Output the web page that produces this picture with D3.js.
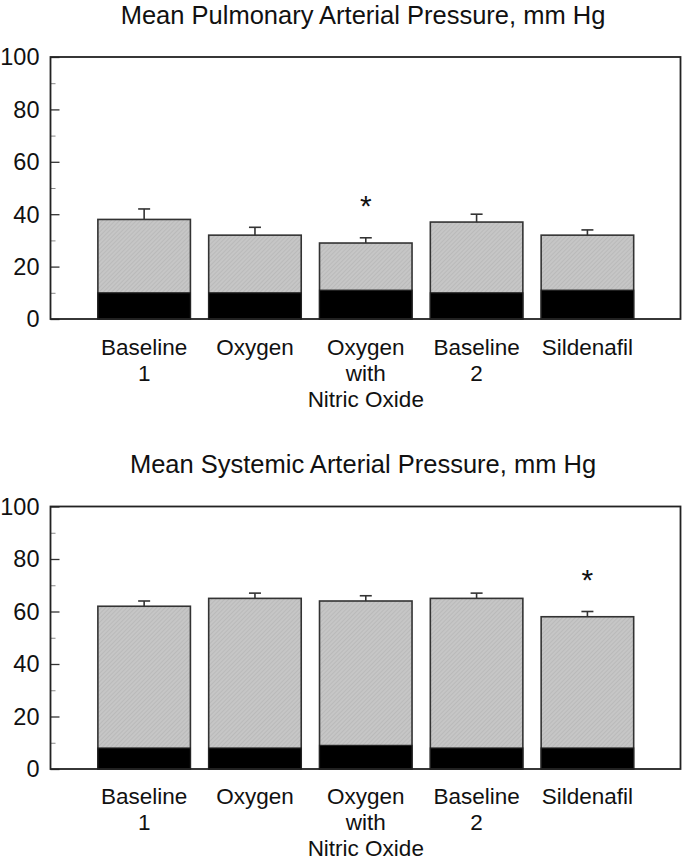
<!DOCTYPE html>
<html>
<head>
<meta charset="utf-8">
<script src="https://cdn.jsdelivr.net/npm/d3@7"></script>
<style>
  html, body { margin: 0; padding: 0; background: #fff; }
  svg { display: block; }
  text { font-family: "Liberation Sans", Arial, sans-serif; fill: #111; }
</style>
</head>
<body>
<svg id="chart" width="686" height="861"></svg>
<script>
// ---------- data ----------
const categories = [["Baseline", "1"], ["Oxygen"], ["Oxygen", "with", "Nitric Oxide"], ["Baseline", "2"], ["Sildenafil"]];
const yTicks = [0, 20, 40, 60, 80, 100];
const yMinorTicks = [10, 30, 50, 70, 90];

const papTitle = "Mean Pulmonary Arterial Pressure, mm Hg";
const papTotal = [38, 32, 29, 37, 32];
const papLower = [10, 10, 11, 10, 11];
const papError = [4, 3, 2, 3, 2];
const papSignificant = [false, false, true, false, false];

const sapTitle = "Mean Systemic Arterial Pressure, mm Hg";
const sapTotal = [62, 65, 64, 65, 58];
const sapLower = [8, 8, 9, 8, 8];
const sapError = [2, 2, 2, 2, 2];
const sapSignificant = [false, false, false, false, true];

// ---------- drawing ----------
const svg = d3.select("#chart");

const defs = svg.append("defs");
const pat = defs.append("pattern")
  .attr("id", "hatch")
  .attr("patternUnits", "userSpaceOnUse")
  .attr("width", 3).attr("height", 3)
  .attr("patternTransform", "rotate(45)");
pat.append("rect").attr("width", 3).attr("height", 3).attr("fill", "#c6c6c6");
pat.append("line").attr("x1", 0).attr("y1", 0).attr("x2", 0).attr("y2", 3)
  .attr("stroke", "#b2b2b2").attr("stroke-width", 1.2);

function panel(opts) {
  const { top, bottom, title, titleY, total, lower, error, sig, labelY } = opts;
  const left = 50.5, right = 680.5;
  const g = svg.append("g");

  const x = d3.scaleLinear().domain([0.155, 5.84]).range([left, right]);
  const y = d3.scaleLinear().domain([0, 100]).range([bottom, top]);
  const idx = d3.range(categories.length);
  const bw = 0.835;

  // title
  g.append("text")
    .attr("x", 363).attr("y", titleY)
    .attr("text-anchor", "middle")
    .attr("font-size", 25.5)
    .text(title);

  // bars: upper (hatched) full height
  g.selectAll("rect.upper").data(idx).join("rect")
    .attr("class", "upper")
    .attr("x", i => x(i + 1 - bw / 2))
    .attr("width", i => x(i + 1 + bw / 2) - x(i + 1 - bw / 2))
    .attr("y", i => y(total[i]))
    .attr("height", i => y(0) - y(total[i]))
    .attr("fill", "url(#hatch)")
    .attr("stroke", "#333")
    .attr("stroke-width", 1.6);

  // lower black segment
  g.selectAll("rect.lower").data(idx).join("rect")
    .attr("class", "lower")
    .attr("x", i => x(i + 1 - bw / 2))
    .attr("width", i => x(i + 1 + bw / 2) - x(i + 1 - bw / 2))
    .attr("y", i => y(lower[i]))
    .attr("height", i => y(0) - y(lower[i]))
    .attr("fill", "#000")
    .attr("stroke", "#222")
    .attr("stroke-width", 1.2);

  // error bars (upward only)
  const eb = g.selectAll("g.err").data(idx).join("g").attr("class", "err");
  eb.append("line")
    .attr("x1", i => x(i + 1)).attr("x2", i => x(i + 1))
    .attr("y1", i => y(total[i])).attr("y2", i => y(total[i] + error[i]))
    .attr("stroke", "#333").attr("stroke-width", 1.6);
  eb.append("line")
    .attr("x1", i => x(i + 1) - 6).attr("x2", i => x(i + 1) + 6)
    .attr("y1", i => y(total[i] + error[i])).attr("y2", i => y(total[i] + error[i]))
    .attr("stroke", "#333").attr("stroke-width", 1.6);

  // significance asterisks
  g.selectAll("text.sig").data(idx.filter(i => sig[i])).join("text")
    .attr("class", "sig")
    .attr("x", i => x(i + 1))
    .attr("y", i => y(total[i] + error[i]) - 22)
    .attr("text-anchor", "middle")
    .attr("font-family", "Liberation Serif, serif")
    .attr("font-size", 30)
    .text("*");

  // y axis ticks (inward)
  const axis = g.append("g").attr("transform", `translate(${left},0)`);
  axis.call(d3.axisRight(y).tickValues(yTicks).tickSize(9).tickFormat(""))
    .call(a => a.select(".domain").remove())
    .call(a => a.selectAll("line").attr("stroke", "#333").attr("stroke-width", 1.3));
  const minor = g.append("g").attr("transform", `translate(${left},0)`);
  minor.call(d3.axisRight(y).tickValues(yMinorTicks).tickSize(5).tickFormat(""))
    .call(a => a.select(".domain").remove())
    .call(a => a.selectAll("line").attr("stroke", "#888").attr("stroke-width", 1));

  // tick labels
  g.selectAll("text.ylab").data(yTicks).join("text")
    .attr("class", "ylab")
    .attr("x", left - 11)
    .attr("y", d => y(d))
    .attr("dy", "0.36em")
    .attr("text-anchor", "end")
    .attr("font-size", 23.5)
    .text(d => d);

  // frame
  g.append("rect")
    .attr("x", left).attr("y", top)
    .attr("width", right - left).attr("height", bottom - top)
    .attr("fill", "none")
    .attr("stroke", "#222")
    .attr("stroke-width", 1.8);

  // category labels
  const cl = g.selectAll("text.cat").data(idx).join("text")
    .attr("class", "cat")
    .attr("text-anchor", "middle")
    .attr("font-size", 22.5)
    .attr("x", i => x(i + 1))
    .attr("y", labelY);
  cl.selectAll("tspan").data(i => categories[i]).join("tspan")
    .attr("x", function() { return d3.select(this.parentNode).attr("x"); })
    .attr("dy", (d, j) => j === 0 ? 0 : 26)
    .text(d => d);
}

panel({ top: 57, bottom: 319, title: papTitle, titleY: 24, total: papTotal, lower: papLower,
        error: papError, sig: papSignificant, labelY: 355 });
panel({ top: 506.5, bottom: 769, title: sapTitle, titleY: 473, total: sapTotal, lower: sapLower,
        error: sapError, sig: sapSignificant, labelY: 804 });
</script>
</body>
</html>
